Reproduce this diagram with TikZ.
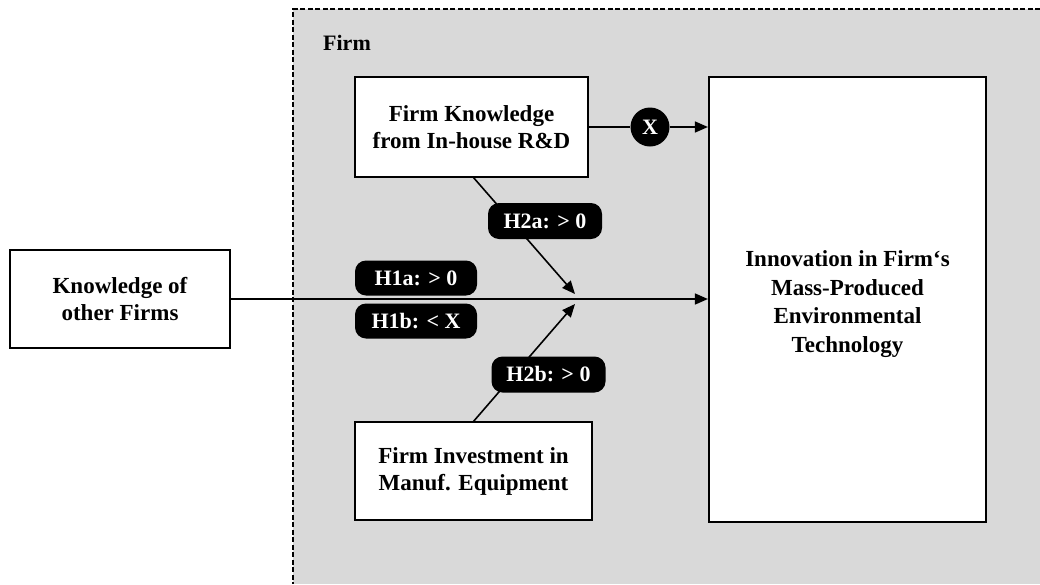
\documentclass[tikz,border=0pt]{standalone}
\usepackage{fontspec}
\setmainfont{Liberation Serif}
\usetikzlibrary{arrows.meta}
\definecolor{firmgray}{HTML}{D9D9D9}
\tikzset{
  box/.style={draw=black, line width=2.2pt, fill=white, align=center, inner sep=0pt,
    font=\fontsize{23}{27}\selectfont\bfseries},
  hyp/.style={fill=black, text=white, rounded corners=11pt, inner sep=0pt,
    minimum width=120pt, minimum height=35pt, font=\fontsize{22}{26}\selectfont\bfseries},
  conn/.style={line width=1.6pt, draw=black},
  arr/.style={conn, -{Triangle[length=13pt,width=11pt]}},
}
\begin{document}
\begin{tikzpicture}[x=1pt,y=-1pt]
\useasboundingbox (0,0) rectangle (1040,584);
\fill[firmgray] (293,9) rectangle (1040,584);
\draw[line width=1.4pt, dash pattern=on 5pt off 2.5pt] (1040,9) -- (293,9) -- (293,584);
\node[font=\fontsize{22}{26}\selectfont\bfseries] (firmlabel) at (347,43) {Firm};

\node[box, minimum width=233pt, minimum height=100pt] (rd) at (471.5,127) {Firm Knowledge\\from In-house R\&D};
\node[box, minimum width=237pt, minimum height=98pt] (inv) at (473.5,471) {Firm Investment in\\Manuf. Equipment};
\node[box, minimum width=220pt, minimum height=98pt] (kof) at (120,299) {Knowledge of\\other Firms};
\node[box, minimum width=277pt, minimum height=445pt] (inn) at (847.5,299.5) {};
\node[align=center, inner sep=0pt, font=\fontsize{23}{28.5}\selectfont\bfseries] (inntext) at (847.5,304) {Innovation in Firm‘s\\Mass-Produced\\Environmental\\Technology};

\node[circle, fill=black, text=white, minimum size=39pt, inner sep=0pt, font=\fontsize{22}{26}\selectfont\bfseries] (xc) at (650,127) {X};

\coordinate (m1) at (575,294);
\coordinate (m2) at (575,304);
\coordinate (rdout) at (473,177);
\coordinate (invout) at (473,422);

\draw[conn] (rd.east |- xc) -- (xc.west);
\draw[arr] (xc.east) -- (xc.east -| inn.west);
\draw[arr] (kof.east) -- (kof.east -| inn.west);
\draw[arr] (rdout) -- (m1);
\draw[arr] (invout) -- (m2);

\node[hyp, minimum width=122pt] (h1a) at (416,278) {H1a: > 0};
\node[hyp, minimum width=122pt] (h1b) at (416,321) {H1b: < X};
\node[hyp, minimum width=114pt, minimum height=36pt] (h2a) at (545,221) {H2a: > 0};
\node[hyp, minimum width=114pt, minimum height=36pt] (h2b) at (548.5,374.5) {H2b: > 0};
\end{tikzpicture}
\end{document}
